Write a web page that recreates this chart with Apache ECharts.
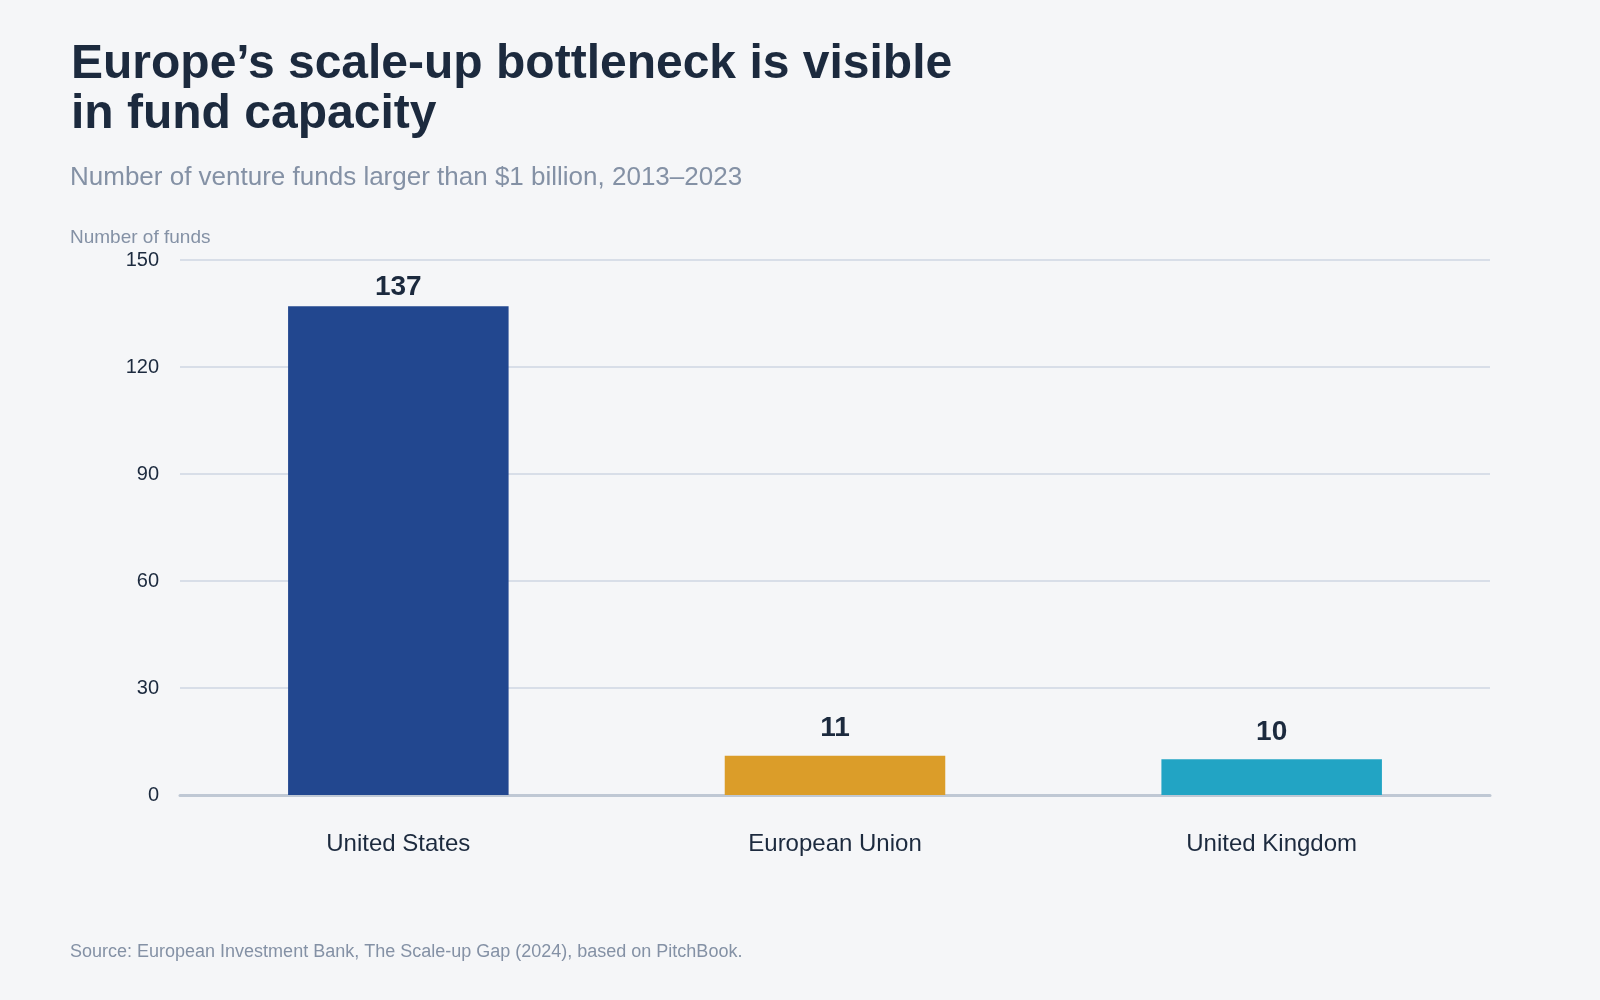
<!DOCTYPE html>
<html lang="en">
<head>
    <meta charset="UTF-8">
    <title>Scale-up bottleneck</title>
    <style>
        html, body { margin: 0; padding: 0; background: #f5f6f8; }
        #chart { width: 1600px; height: 1000px; }
    </style>
</head>
<body>
<div id="chart"></div>
<script src="https://cdn.jsdelivr.net/npm/echarts@6/dist/echarts.min.js"></script>
<script>
    var regions = ['United States', 'European Union', 'United Kingdom'];
    var fundCounts = [137, 11, 10];
    var barColors = ['#22478f', '#db9d29', '#22a4c4'];
    var yTicks = [0, 30, 60, 90, 120, 150];

    var font = '"Liberation Sans", Arial, Helvetica, sans-serif';
    var dark = '#1c2a3e';
    var muted = '#8491a5';

    var chart = echarts.init(document.getElementById('chart'));

    var option = {
        backgroundColor: '#f5f6f8',
        textStyle: { fontFamily: font },
        title: {
            text: 'Europe\u2019s scale-up bottleneck is visible\nin fund capacity',
            left: 66,
            top: 35,
            textStyle: {
                fontFamily: font,
                fontSize: 48,
                fontWeight: 'bold',
                lineHeight: 50,
                color: dark
            }
        },
        graphic: [
            {
                type: 'text',
                left: 70,
                top: 165,
                style: {
                    text: 'Number of venture funds larger than $1 billion, 2013\u20132023',
                    font: '26px ' + font,
                    fill: muted
                }
            },
            {
                type: 'text',
                left: 70,
                top: 228,
                style: {
                    text: 'Number of funds',
                    font: '19px ' + font,
                    fill: muted
                }
            },
            {
                type: 'text',
                left: 70,
                top: 943,
                style: {
                    text: 'Source: European Investment Bank, The Scale-up Gap (2024), based on PitchBook.',
                    font: '18px ' + font,
                    fill: muted
                }
            }
        ],
        grid: {
            left: 180,
            right: 110,
            top: 260,
            bottom: 205
        },
        xAxis: {
            type: 'category',
            data: regions,
            axisTick: { show: false },
            axisLine: { lineStyle: { color: '#bfc8d4', width: 3 } },
            axisLabel: {
                margin: 37,
                fontSize: 24,
                color: dark,
                fontFamily: font
            }
        },
        yAxis: {
            type: 'value',
            min: yTicks[0],
            max: yTicks[yTicks.length - 1],
            interval: yTicks[1] - yTicks[0],
            axisLine: { show: false },
            axisTick: { show: false },
            splitLine: { lineStyle: { color: '#d8dee8', width: 2 } },
            axisLabel: {
                margin: 21,
                fontSize: 20,
                padding: [4, 0, 0, 0],
                color: dark,
                fontFamily: font
            }
        },
        series: [
            {
                type: 'bar',
                barWidth: '50.5%',
                data: fundCounts.map(function (v, i) {
                    return {
                        value: v,
                        itemStyle: { color: barColors[i] },
                        label: { distance: v > 50 ? 5 : 13 }
                    };
                }),
                label: {
                    show: true,
                    position: 'top',
                    fontSize: 28,
                    fontWeight: 'bold',
                    color: dark,
                    fontFamily: font
                }
            }
        ]
    };

    chart.setOption(option);
</script>
</body>
</html>
